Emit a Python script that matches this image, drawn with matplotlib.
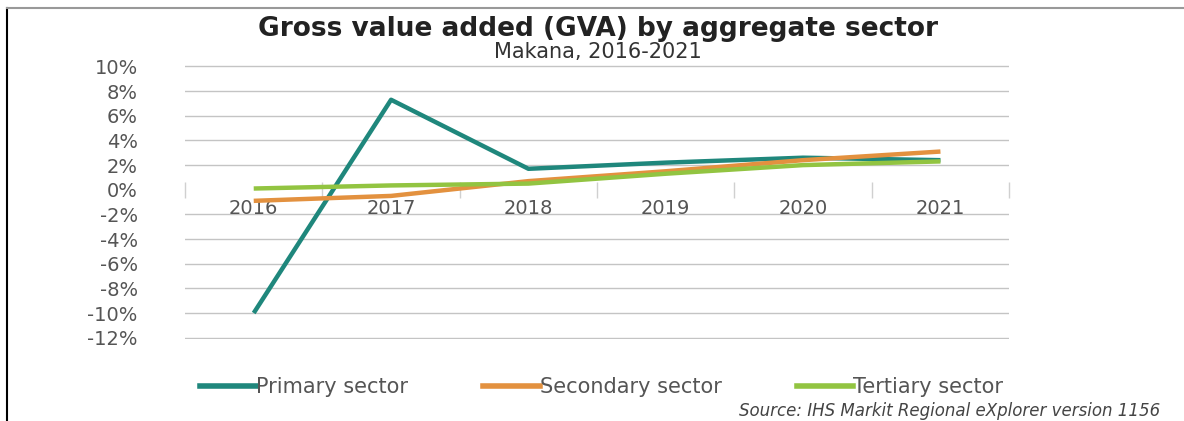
import matplotlib.pyplot as plt
from matplotlib.lines import Line2D

# GVA growth by aggregate sector, Makana 2016-2021
years = ['2016', '2017', '2018', '2019', '2020', '2021']
primary = [-10.0, 7.3, 1.7, 2.2, 2.6, 2.4]
secondary = [-0.9, -0.5, 0.7, 1.5, 2.4, 3.1]
tertiary = [0.1, 0.35, 0.5, 1.3, 2.0, 2.3]
yticks = [10, 8, 6, 4, 2, 0, -2, -4, -6, -8, -10, -12]

series = [('Primary sector', primary, '#1f877c'),
          ('Secondary sector', secondary, '#e3913f'),
          ('Tertiary sector', tertiary, '#92c441')]

txt = '#555555'
fig = plt.figure(figsize=(11.84, 4.21), dpi=100)
ax = fig.add_axes([0.1563, 0.1950, 0.696, 0.6500])

x = list(range(len(years)))
for name, vals, col in series:
    ax.plot(x, vals, color=col, lw=3.2, solid_capstyle='butt', label=name, zorder=3)

ax.set_xlim(-0.5, len(years) - 0.5)
ax.set_ylim(-12.1, 10.1)
ax.set_yticks(yticks)
ax.set_yticklabels([f'{v}%' for v in yticks], color=txt, fontsize=14)
ax.tick_params(axis='y', length=0, pad=34)
for v in yticks:
    if v != 0:
        ax.axhline(v, color='#c4c4c4', lw=1.0, zorder=1)

# category axis sits on the zero line, labels just below it
ax.spines['bottom'].set_position(('data', 0))
for s in ['top', 'right', 'left', 'bottom']:
    ax.spines[s].set_visible(False)
ax.set_xticks(x)
ax.set_xticklabels(years, color=txt, fontsize=14)
ax.set_xticks([i - 0.5 for i in range(len(years) + 1)], minor=True)
ax.tick_params(axis='x', which='major', length=0, pad=7)
ax.tick_params(axis='x', which='minor', length=11, direction='inout', color='#d0d0d0', width=1)

fig.text(0.505, 0.932, 'Gross value added (GVA) by aggregate sector',
         ha='center', va='center', fontsize=19, fontweight='bold', color='#222222')
fig.text(0.505, 0.877, 'Makana, 2016-2021', ha='center', va='center', fontsize=15, color='#333333')

handles = [Line2D([0], [0], color=c, lw=4) for _, _, c in series]
fig.legend(handles, [s[0] for s in series], loc='center', bbox_to_anchor=(0.508, 0.081),
           ncol=3, frameon=False, fontsize=15, handlelength=2.7, handletextpad=0.0,
           columnspacing=3.6, labelcolor=txt)

fig.text(0.98, 0.002, 'Source: IHS Markit Regional eXplorer version 1156', ha='right', va='bottom',
         fontsize=12, style='italic', color='#444444')

# page frame
fig.add_artist(Line2D([0.006, 0.006], [0, 0.982], color='black', lw=1.5))
fig.add_artist(Line2D([0.006, 1.0], [0.982, 0.982], color='#999999', lw=1.5))

fig.savefig('out.png', dpi=100)
